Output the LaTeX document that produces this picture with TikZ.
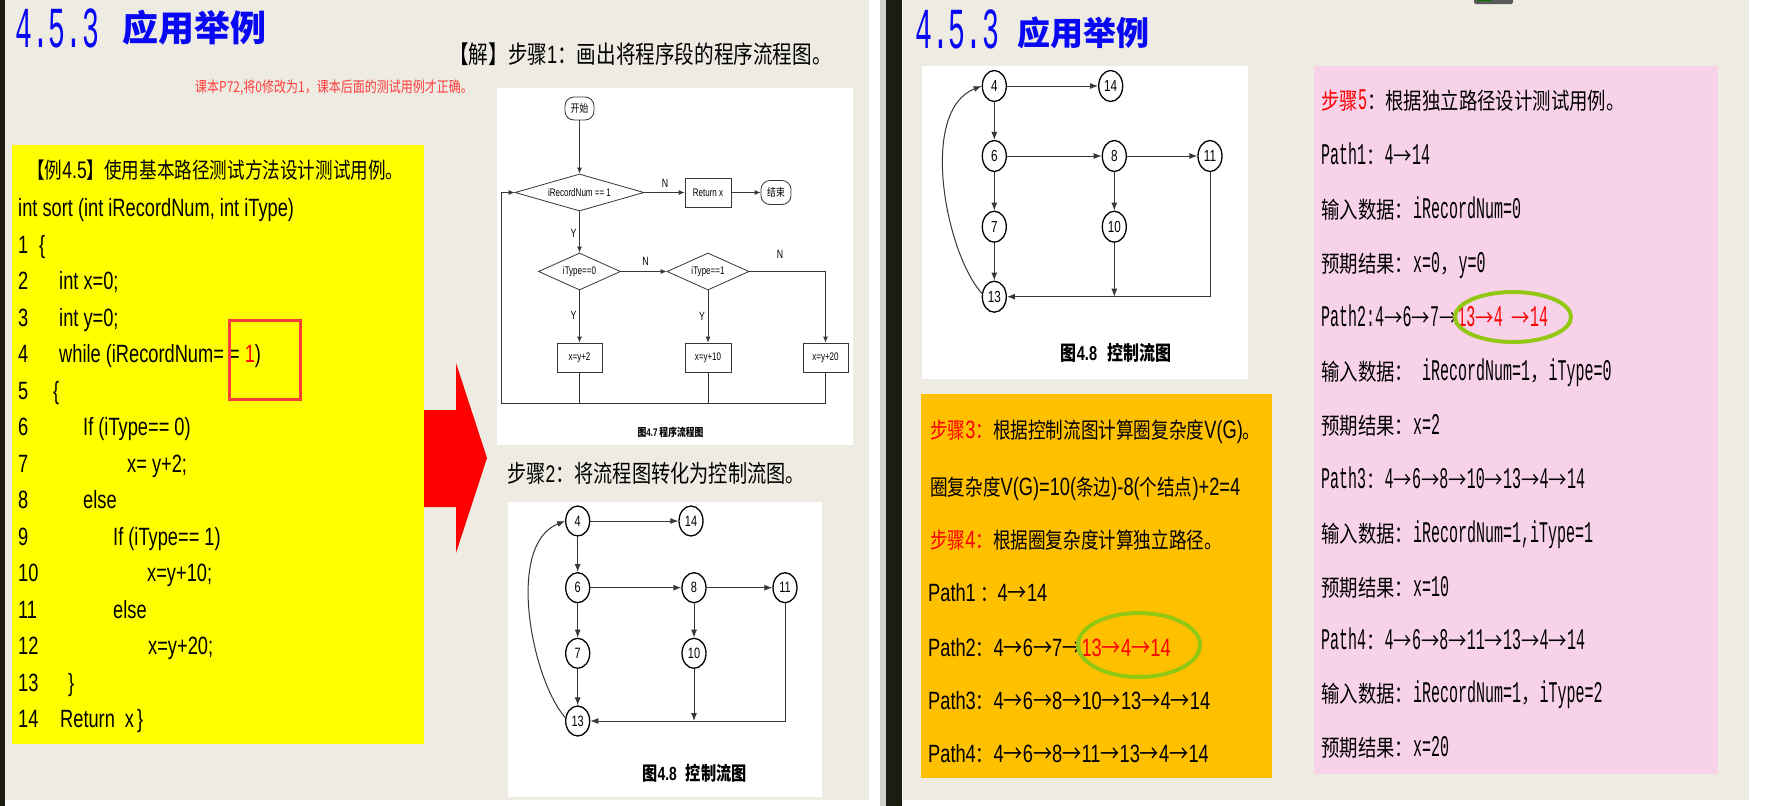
\documentclass[tikz,border=0pt]{standalone}
\usepackage{fontspec}
\usetikzlibrary{shapes.geometric,arrows.meta}
\newfontfamily\cjk[FakeStretch=0.8]{Noto Sans CJK SC}
\newfontfamily\cjkt{Noto Sans CJK SC}
\newfontfamily\lat[FakeStretch=0.73]{Liberation Sans}
\newfontfamily\mono[FakeStretch=0.5]{Liberation Mono}
\newfontfamily\ttl[FakeStretch=0.485]{Liberation Mono}
\newcommand\fsz[1]{\fontsize{#1}{#1}\selectfont}
\newcommand\pk[1]{{\cjk\fsz{23}#1}}
\newcommand\oa{{\cjk\fsz{24}→}}
\definecolor{bg}{RGB}{238,235,227}
\definecolor{dk}{RGB}{28,28,16}
\definecolor{ttlblue}{RGB}{8,8,245}
\definecolor{yel}{RGB}{255,255,0}
\definecolor{org}{RGB}{255,192,0}
\definecolor{pnk}{RGB}{247,210,233}
\definecolor{rd}{RGB}{255,0,0}
\definecolor{rdbox}{RGB}{250,60,60}
\definecolor{rdnote}{RGB}{255,60,60}
\definecolor{grn}{RGB}{146,200,20}
\definecolor{ln}{RGB}{55,55,55}
\tikzset{
  txt/.style={inner sep=0pt, anchor=base west},
  code/.style={txt, font=\lat\fsz{25}},
  otext/.style={txt, font=\cjk\fsz{22}},
  opath/.style={txt, font=\lat\fsz{25}},
  ptext/.style={txt, font=\mono\fsz{30}},
  fl/.style={draw=ln, line width=0.8pt, font=\lat\fsz{11}, inner sep=0pt},
  flab/.style={inner sep=0pt, font=\lat\fsz{12}},
  fline/.style={draw=ln, line width=0.8pt},
  farr/.style={draw=ln, line width=0.8pt, -{Latex[length=6pt,width=5pt]}},
  cf/.style={ellipse, draw=black, line width=1.3pt, minimum width=24pt, minimum height=30pt, inner sep=0pt, font=\lat\fsz{15}},
  cfb/.style={cf, minimum height=31pt, font=\lat\fsz{16}},
  carr/.style={draw=ln, line width=1pt, -{Latex[length=8pt,width=6pt]}},
  ring/.style={ellipse, draw=grn, line width=4pt, inner sep=0pt}
}
\begin{document}
\begin{tikzpicture}[x=1pt,y=-1pt]
\useasboundingbox (0,0) rectangle (1765,806);
% backgrounds
\fill[white] (0,0) rectangle (1765,806);
\fill[bg] (0,0) rectangle (869,800);
\fill[dk] (0,0) rectangle (5,806);
\fill[bg!75!gray] (880,0) rectangle (886,806);
\fill[dk] (886,0) rectangle (902,806);
\fill[bg] (903,0) rectangle (1749,800);
\fill[black!65, rounded corners=2pt] (1474,-6) rectangle (1513,4);
\fill[green!45!black] (1477,-3) rectangle (1492,1);

% ===== LEFT SLIDE =====
\node[txt, font=\ttl\fsz{58}, text=ttlblue] (tl1) at (15,47) {4.5.3};
\node[txt, font=\cjkt\bfseries\fsz{36}, text=ttlblue] (tl2) at (122,41) {应用举例};
\node[txt, font=\cjk\fsz{24.5}] (s1) at (449,63) {【解】步骤{\lat\fsz{25}1}：画出将程序段的程序流程图。};
\node[txt, font=\cjk\fsz{15}, text=rdnote] (note) at (195,92) {课本P72,将0修改为1，课本后面的测试用例才正确。};

% yellow code box
\fill[yel] (12,145) rectangle (424,744);
\fill[rd] (424,410) -- (456,410) -- (456,363) -- (487,458) -- (456,553) -- (456,507) -- (424,507) -- cycle;
\node[txt, font=\cjk\fsz{22}] (hdr) at (27,178) {【例{\lat\fsz{24}4.5}】使用基本路径测试方法设计测试用例。};
\node[code] (c0) at (18,216.5) {int sort (int iRecordNum, int iType)};
\foreach \k in {1,...,14} \node[code] (num\k) at (18,{216.5+36.5*\k}) {\k};
\node[code] (c1) at (39,253) {\{};
\node[code] (c2) at (59,289.5) {int x=0;};
\node[code] (c3) at (59,326) {int y=0;};
\node[code] (c4) at (59,362.5) {while (iRecordNum= = {\color{rd}1})};
\node[code] (c5) at (53,399) {\{};
\node[code] (c6) at (83,435.5) {If (iType== 0)};
\node[code] (c7) at (127,472) {x= y+2;};
\node[code] (c8) at (83,508.5) {else};
\node[code] (c9) at (113,545) {If (iType== 1)};
\node[code] (c10) at (147,581.5) {x=y+10;};
\node[code] (c11) at (113,618) {else};
\node[code] (c12) at (148,654.5) {x=y+20;};
\node[code] (c13) at (68,691) {\}};
\node[code] (c14) at (60,727.5) {Return\hspace{10pt}x\hspace{3pt}\}};
\draw[rdbox, line width=3pt] (229,320) rectangle (300,399);

% program flowchart
\fill[white] (497,88) rectangle (853,445);
\node[fl, rounded corners=9pt, minimum width=29pt, minimum height=23pt, font=\cjk\fsz{11}] (st) at (579.5,108.5) {开始};
\node[fl, diamond, aspect=3.5, minimum width=129pt, minimum height=37pt] (d1) at (579.5,192.5) {iRecordNum == 1};
\node[fl, minimum width=46pt, minimum height=29pt] (ret) at (708,192.5) {Return x};
\node[fl, rounded corners=9pt, minimum width=30pt, minimum height=24pt, font=\cjk\fsz{11}] (en) at (776,192.5) {结束};
\node[fl, diamond, aspect=2.2, minimum width=82pt, minimum height=37pt] (d2) at (579.5,271.5) {iType==0};
\node[fl, diamond, aspect=2.2, minimum width=82pt, minimum height=37pt] (d3) at (708,271.5) {iType==1};
\node[fl, minimum width=45pt, minimum height=29pt] (bx1) at (579.5,357.5) {x=y+2};
\node[fl, minimum width=46pt, minimum height=29pt] (bx2) at (708,357.5) {x=y+10};
\node[fl, minimum width=45pt, minimum height=29pt] (bx3) at (825.5,357.5) {x=y+20};
\coordinate (p1) at (825.5,271.5);
\coordinate (q1) at (579.5,403);
\coordinate (q2) at (708,403);
\coordinate (q3) at (825.5,403);
\coordinate (q0) at (501.7,403);
\coordinate (q00) at (501.7,192.5);
\draw[farr] (st) -- (d1);
\draw[farr] (d1) -- (ret);
\draw[farr] (ret) -- (en);
\draw[farr] (d1) -- (d2);
\draw[farr] (d2) -- (d3);
\draw[farr] (d3.east) -- (p1) -- (bx3);
\draw[farr] (d2) -- (bx1);
\draw[farr] (d3) -- (bx2);
\draw[fline] (bx1.south) -- (q1);
\draw[fline] (bx2.south) -- (q2);
\draw[farr] (bx3.south) -- (q3) -- (q0) -- (q00) -- (d1.west);
\node[flab] (n1) at (665,183) {N};
\node[flab] (y1) at (573.5,233) {Y};
\node[flab] (n2) at (645.5,261) {N};
\node[flab] (n3) at (780,254) {N};
\node[flab] (y2) at (573.5,315) {Y};
\node[flab] (y3) at (702,316) {Y};
\node[inner sep=0pt, font=\cjk\bfseries\fsz{11}] (cap1) at (670.5,432) {图{\lat\bfseries 4.7} 程序流程图};

% step 2 and control flow graph (left)
\node[txt, font=\cjk\fsz{24}] (s2) at (507,482) {步骤{\lat 2}：将流程图转化为控制流图。};
\fill[white] (508,502) rectangle (822,797);
\node[cf] (a4) at (577.7,521) {4};
\node[cf] (a14) at (691,521) {14};
\node[cf] (a6) at (577.7,587.7) {6};
\node[cf] (a8) at (694,587.7) {8};
\node[cf] (a11) at (785,587.7) {11};
\node[cf] (a7) at (577.7,653.3) {7};
\node[cf] (a10) at (694,653.3) {10};
\node[cf] (a13) at (577.7,721) {13};
\coordinate (aj) at (694,721);
\coordinate (ak) at (785,721);
\draw[carr] (a4) -- (a14);
\draw[carr] (a4) -- (a6);
\draw[carr] (a6) -- (a8);
\draw[carr] (a8) -- (a11);
\draw[carr] (a6) -- (a7);
\draw[carr] (a8) -- (a10);
\draw[carr] (a7) -- (a13);
\draw[carr] (a10) -- (aj);
\draw[carr] (a11) -- (ak) -- (a13);
\draw[carr] (a13.165) .. controls (532,680) and (505,545) .. (a4.west);
\node[inner sep=0pt, font=\cjk\bfseries\fsz{19}] (cap2) at (694.5,773) {图{\lat\bfseries 4.8}\hspace{9pt}控制流图};

% ===== RIGHT SLIDE =====
\node[txt, font=\ttl\fsz{58}, text=ttlblue] (tr1) at (915,48) {4.5.3};
\node[txt, font=\cjkt\bfseries\fsz{33}, text=ttlblue] (tr2) at (1017,45) {应用举例};

\fill[white] (922,66) rectangle (1248,379);
\node[cfb] (b4) at (994.3,86) {4};
\node[cfb] (b14) at (1110.7,86) {14};
\node[cfb] (b6) at (994.3,156) {6};
\node[cfb] (b8) at (1114.3,156) {8};
\node[cfb] (b11) at (1210,156) {11};
\node[cfb] (b7) at (994.3,226.7) {7};
\node[cfb] (b10) at (1114.3,226.7) {10};
\node[cfb] (b13) at (994.3,296.7) {13};
\coordinate (bj) at (1114.3,296.7);
\coordinate (bk) at (1210,296.7);
\draw[carr] (b4) -- (b14);
\draw[carr] (b4) -- (b6);
\draw[carr] (b6) -- (b8);
\draw[carr] (b8) -- (b11);
\draw[carr] (b6) -- (b7);
\draw[carr] (b8) -- (b10);
\draw[carr] (b7) -- (b13);
\draw[carr] (b10) -- (bj);
\draw[carr] (b11) -- (bk) -- (b13);
\draw[carr] (b13.165) .. controls (946,254) and (918,111) .. (b4.west);
\node[inner sep=0pt, font=\cjk\bfseries\fsz{20}] (cap3) at (1116,353) {图{\lat\bfseries 4.8}\hspace{10pt}控制流图};

% orange box
\fill[org] (921,394) rectangle (1272,778);
\node[otext] (o1) at (930,438) {{\color{rd}步骤{\lat\fsz{25}3}：}根据控制流图计算圈复杂度{\lat\fsz{25}V(G)}。};
\node[otext] (o2) at (930,495) {圈复杂度{\lat\fsz{25}V(G)=10(}条边{\lat\fsz{25})-8(}个结点{\lat\fsz{25})+2=4}};
\node[otext] (o3) at (930,548) {{\color{rd}步骤{\lat\fsz{25}4}：}根据圈复杂度计算独立路径。};
\node[opath] (o4) at (928,601) {Path1\,{\cjk\fsz{22}：}4\oa 14};
\node[opath] (o5) at (928,656) {Path2{\cjk\fsz{22}：}4\oa 6\oa 7\oa{\color{rd}13\oa 4\oa 14}};
\node[opath] (o6) at (928,709) {Path3{\cjk\fsz{22}：}4\oa 6\oa 8\oa 10\oa 13\oa 4\oa 14};
\node[opath] (o7) at (928,762) {Path4{\cjk\fsz{22}：}4\oa 6\oa 8\oa 11\oa 13\oa 4\oa 14};
\node[ring, minimum width=122pt, minimum height=64pt] (g1) at (1139,645) {};

% pink box
\fill[pnk] (1314,66) rectangle (1718,774);
\node[ptext] (p1) at (1321,109) {\pk{\color{rd}步骤}{\color{rd}5}\pk{：根据独立路径设计测试用例。}};
\node[ptext] (p2) at (1321,164) {Path1\pk{：}4\pk{→}14};
\node[ptext] (p3) at (1321,218) {\pk{输入数据：}iRecordNum=0};
\node[ptext] (p4) at (1321,272) {\pk{预期结果：}x=0\pk{，}y=0};
\node[ptext] (p5) at (1321,326) {Path2:4\pk{→}6\pk{→}7\pk{→}{\color{rd}13\pk{→}4 \pk{→}14}};
\node[ptext] (p6) at (1321,380) {\pk{输入数据：} iRecordNum=1\pk{，}iType=0};
\node[ptext] (p7) at (1321,434) {\pk{预期结果：}x=2};
\node[ptext] (p8) at (1321,488) {Path3\pk{：}4\pk{→}6\pk{→}8\pk{→}10\pk{→}13\pk{→}4\pk{→}14};
\node[ptext] (p9) at (1321,542) {\pk{输入数据：}iRecordNum=1,iType=1};
\node[ptext] (p10) at (1321,596) {\pk{预期结果：}x=10};
\node[ptext] (p11) at (1321,649) {Path4\pk{：}4\pk{→}6\pk{→}8\pk{→}11\pk{→}13\pk{→}4\pk{→}14};
\node[ptext] (p12) at (1321,702) {\pk{输入数据：}iRecordNum=1\pk{，}iType=2};
\node[ptext] (p13) at (1321,756) {\pk{预期结果：}x=20};
\node[ring, minimum width=116pt, minimum height=50pt] (g2) at (1513,317) {};
\end{tikzpicture}
\end{document}
